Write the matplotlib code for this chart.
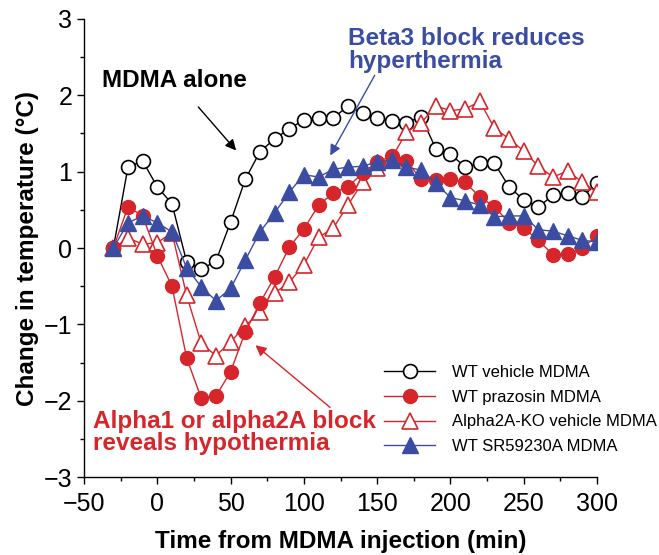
import matplotlib.pyplot as plt
import numpy as np
from matplotlib.ticker import MultipleLocator

plt.rcParams['font.family'] = ['Liberation Sans', 'DejaVu Sans']

red = (0.84, 0.15, 0.17)
blue = (0.23, 0.30, 0.64)

# time points (min), one every 10 min
t = np.arange(-30, 301, 10)

wt_vehicle = [0, 1.06, 1.14, 0.80, 0.58, -0.18, -0.28, -0.17, 0.34, 0.90,
              1.26, 1.43, 1.56, 1.68, 1.70, 1.70, 1.86, 1.77, 1.70, 1.67,
              1.64, 1.72, 1.30, 1.23, 1.06, 1.11, 1.11, 0.80, 0.63, 0.54,
              0.69, 0.72, 0.67, 0.85]
wt_prazosin = [0, 0.54, 0.42, -0.10, -0.50, -1.44, -1.97, -1.94, -1.62, -1.10,
               -0.72, -0.38, 0.01, 0.25, 0.56, 0.72, 0.80, 0.98, 1.13, 1.20,
               1.14, 0.90, 0.89, 0.90, 0.86, 0.67, 0.54, 0.33, 0.26, 0.10,
               -0.09, -0.08, 0.00, 0.16]
ko_vehicle = [0, 0.13, 0.05, 0.07, 0.20, -0.62, -1.25, -1.41, -1.23, -1.02,
              -0.84, -0.59, -0.45, -0.22, 0.14, 0.26, 0.56, 0.86, 1.05, 1.18,
              1.52, 1.64, 1.86, 1.80, 1.82, 1.92, 1.57, 1.43, 1.27, 1.07,
              0.93, 1.01, 0.86, 0.73]
wt_sr = [0, 0.33, 0.42, 0.33, 0.21, -0.26, -0.51, -0.69, -0.53, -0.16,
         0.21, 0.46, 0.73, 0.96, 0.93, 1.03, 1.06, 1.07, 1.13, 1.15,
         1.06, 1.02, 0.85, 0.66, 0.62, 0.56, 0.41, 0.42, 0.42, 0.24,
         0.22, 0.16, 0.10, 0.08]

fig = plt.figure(figsize=(6.59, 5.55), dpi=100)
ax = fig.add_axes([0.1275, 0.1405, 0.7785, 0.8253])

ax.plot(t, wt_vehicle, color='black', lw=1, marker='o', ms=10, mfc='white',
        mec='black', mew=1.2, label='WT vehicle MDMA')
ax.plot(t, ko_vehicle, color=red, lw=1, marker='^', ms=11, mfc='white',
        mec=red, mew=1.2, label='Alpha2A-KO vehicle MDMA')
ax.plot(t, wt_prazosin, color=red, lw=1, marker='o', ms=10, mfc=red,
        mec=red, label='WT prazosin MDMA')
ax.plot(t, wt_sr, color=blue, lw=1, marker='^', ms=11, mfc=blue,
        mec=blue, label='WT SR59230A MDMA')

ax.set_xlim(-50, 300)
ax.set_ylim(-3, 3)
ax.xaxis.set_major_locator(MultipleLocator(50))
ax.xaxis.set_minor_locator(MultipleLocator(25))
ax.yaxis.set_major_locator(MultipleLocator(1))
ax.yaxis.set_minor_locator(MultipleLocator(0.5))
ax.tick_params(which='major', length=5, width=1, labelsize=18, direction='out')
ax.tick_params(axis='x', which='major', pad=6)
ax.tick_params(which='minor', length=3, width=1, direction='out')
for s in ['top', 'right']:
    ax.spines[s].set_visible(False)
for s in ['left', 'bottom']:
    ax.spines[s].set_linewidth(1)

ax.set_xlabel('Time from MDMA injection (min)', fontsize=17.5,
              fontweight='bold', labelpad=10)
ax.set_ylabel('Change in temperature (\u00b0C)', fontsize=17.5,
              fontweight='bold', labelpad=3)

ax.annotate('MDMA alone', xy=(55, 1.25), xytext=(12, 2.2), fontsize=17.5,
            fontweight='bold', ha='center', va='center', color='black',
            arrowprops=dict(arrowstyle='-|>', color='black', lw=1, shrinkA=12,
                            mutation_scale=16))
ax.annotate('Beta3 block reduces\nhyperthermia', xy=(117, 1.18), xytext=(130, 2.6),
            fontsize=17.5, fontweight='bold', ha='left', va='center', color=blue,
            linespacing=1.0,
            arrowprops=dict(arrowstyle='-|>', color=blue, lw=1, shrinkA=0,
                            relpos=(0.12, 0), mutation_scale=16))
ax.annotate('Alpha1 or alpha2A block\nreveals hypothermia', xy=(65.5, -1.25),
            xytext=(-44, -2.42), fontsize=17.5, fontweight='bold', ha='left',
            va='center', color=red, linespacing=0.95,
            arrowprops=dict(arrowstyle='-|>', color=red, lw=1, shrinkA=0,
                            relpos=(0.85, 1), mutation_scale=16))

h, l = ax.get_legend_handles_labels()
order = [0, 2, 1, 3]
ax.legend([h[i] for i in order], [l[i] for i in order], loc='upper left',
          bbox_to_anchor=(0.555, 0.277), frameon=False, fontsize=12,
          handlelength=3.1, handletextpad=1.0, labelspacing=0.58)

plt.savefig('out.png', dpi=100)
